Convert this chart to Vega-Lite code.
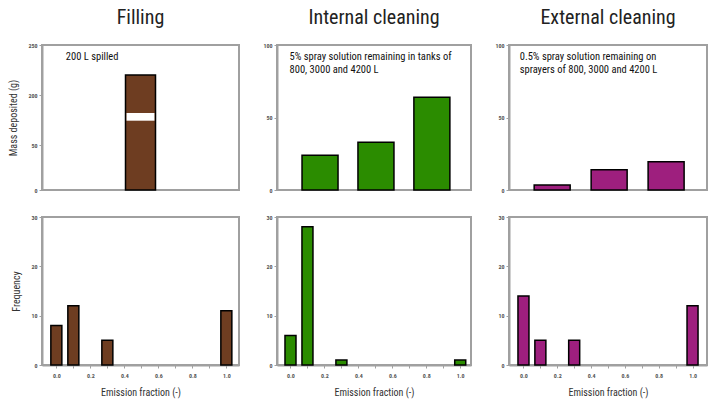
{
  "$schema": "https://vega.github.io/schema/vega-lite/v6.json",
  "padding": {"left": 7, "top": 7, "right": 3, "bottom": 3},
  "background": "white",
  "config": {
    "font": "Roboto Condensed, DejaVu Sans Condensed, Roboto, sans-serif",
    "view": {"stroke": "#a0a0a0", "strokeWidth": 2},
    "axis": {"domainColor": "#a0a0a0", "domainWidth": 2, "tickColor": "#a0a0a0", "tickSize": 3, "labelFontSize": 6, "labelFontWeight": "bold", "labelColor": "#555", "titleFontSize": 10, "titleFontWeight": "normal", "titleColor": "#333", "grid": false, "labelPadding": 2, "titlePadding": 9},
    "axisX": {"labelPadding": 4, "titlePadding": 9},
    "title": {"fontSize": 20, "fontWeight": "normal", "color": "#222", "offset": 14},
    "concat": {"spacing": 21}
  },
  "datasets": {
    "mass": [
      {"process": "Filling", "tank": 1, "mass": 220},
      {"process": "Internal cleaning", "tank": 1, "mass": 24},
      {"process": "Internal cleaning", "tank": 2, "mass": 33},
      {"process": "Internal cleaning", "tank": 3, "mass": 64},
      {"process": "External cleaning", "tank": 1, "mass": 3.5},
      {"process": "External cleaning", "tank": 2, "mass": 14},
      {"process": "External cleaning", "tank": 3, "mass": 19.5}
    ],
    "freq": [
      {"process": "Filling", "fraction": 0.0, "count": 8},
      {"process": "Filling", "fraction": 0.1, "count": 12},
      {"process": "Filling", "fraction": 0.3, "count": 5},
      {"process": "Filling", "fraction": 1.0, "count": 11},
      {"process": "Internal cleaning", "fraction": 0.0, "count": 6},
      {"process": "Internal cleaning", "fraction": 0.1, "count": 28},
      {"process": "Internal cleaning", "fraction": 0.3, "count": 1},
      {"process": "Internal cleaning", "fraction": 1.0, "count": 1},
      {"process": "External cleaning", "fraction": 0.0, "count": 14},
      {"process": "External cleaning", "fraction": 0.1, "count": 5},
      {"process": "External cleaning", "fraction": 0.3, "count": 5},
      {"process": "External cleaning", "fraction": 1.0, "count": 12}
    ]
  },
  "hconcat": [
    {
      "spacing": 19,
      "vconcat": [
        {
          "width": 197, "height": 145,
          "title": "Filling",
          "layer": [
            {
              "data": {"name": "mass"},
              "transform": [{"filter": "datum.process === 'Filling'"}],
              "mark": {"type": "bar", "width": 30, "color": "#6e3d21", "stroke": "#000", "strokeWidth": 1.5},
              "encoding": {
                "x": {"field": "tank", "type": "quantitative", "scale": {"domain": [0, 2]}, "axis": null},
                "y": {"field": "mass", "type": "quantitative", "scale": {"domain": [0, 80, 178, 250], "range": [145, 73, 72, 0], "zero": false, "nice": false}, "axis": {"values": [0, 50, 200, 250], "title": "Mass deposited (g)"}}
              }
            },
            {
              "data": {"values": [{}]},
              "mark": {"type": "rect", "color": "white"},
              "encoding": {"x": {"datum": 0.83}, "x2": {"datum": 1.17}, "y": {"datum": 77}, "y2": {"datum": 182}}
            },
            {
              "data": {"values": [{"note": "200 L spilled"}]},
              "mark": {"type": "text", "align": "left", "baseline": "top", "fontSize": 10.5, "color": "#111"},
              "encoding": {"x": {"datum": 0.09}, "y": {"datum": 243}, "text": {"field": "note"}}
            }
          ]
        },
        {
          "width": 197, "height": 148,
          "data": {"name": "freq"},
          "transform": [{"filter": "datum.process === 'Filling'"}],
          "mark": {"type": "bar", "width": 11, "color": "#6e3d21", "stroke": "#000", "strokeWidth": 1.5},
          "encoding": {
            "x": {"field": "fraction", "type": "quantitative", "scale": {"domain": [-0.055, 1.045], "nice": false, "zero": false}, "axis": {"values": [0, 0.1, 0.2, 0.3, 0.4, 0.5, 0.6, 0.7, 0.8, 0.9, 1.0], "labelExpr": "round(datum.value*10) % 2 === 0 ? format(datum.value, '.1f') : ''", "title": "Emission fraction (-)"}},
            "y": {"field": "count", "type": "quantitative", "scale": {"domain": [0, 30]}, "axis": {"values": [0, 10, 20, 30], "title": "Frequency"}}
          }
        }
      ]
    },
    {
      "spacing": 19,
      "vconcat": [
        {
          "width": 194, "height": 145,
          "title": "Internal cleaning",
          "layer": [
            {
              "data": {"name": "mass"},
              "transform": [{"filter": "datum.process === 'Internal cleaning'"}],
              "mark": {"type": "bar", "width": 36, "color": "#2b8c00", "stroke": "#000", "strokeWidth": 1.5},
              "encoding": {
                "x": {"field": "tank", "type": "quantitative", "scale": {"domain": [0.32, 3.61], "nice": false, "zero": false}, "axis": null},
                "y": {"field": "mass", "type": "quantitative", "scale": {"domain": [0, 100]}, "axis": {"values": [0, 50, 100], "title": null}}
              }
            },
            {
              "data": {"values": [{"note": ["5% spray solution remaining in tanks of", "800, 3000 and 4200 L"]}]},
              "mark": {"type": "text", "align": "left", "baseline": "top", "fontSize": 10.5, "lineHeight": 13, "color": "#111"},
              "encoding": {"x": {"datum": 0.455}, "y": {"datum": 95.2}, "text": {"field": "note"}}
            }
          ]
        },
        {
          "width": 194, "height": 148,
          "data": {"name": "freq"},
          "transform": [{"filter": "datum.process === 'Internal cleaning'"}],
          "mark": {"type": "bar", "width": 11, "color": "#2b8c00", "stroke": "#000", "strokeWidth": 1.5},
          "encoding": {
            "x": {"field": "fraction", "type": "quantitative", "scale": {"domain": [-0.05, 1.034], "nice": false, "zero": false}, "axis": {"values": [0, 0.1, 0.2, 0.3, 0.4, 0.5, 0.6, 0.7, 0.8, 0.9, 1.0], "labelExpr": "round(datum.value*10) % 2 === 0 ? format(datum.value, '.1f') : ''", "title": "Emission fraction (-)"}},
            "y": {"field": "count", "type": "quantitative", "scale": {"domain": [0, 30]}, "axis": {"values": [0, 10, 20, 30], "title": null}}
          }
        }
      ]
    },
    {
      "spacing": 19,
      "vconcat": [
        {
          "width": 198, "height": 145,
          "title": "External cleaning",
          "layer": [
            {
              "data": {"name": "mass"},
              "transform": [{"filter": "datum.process === 'External cleaning'"}],
              "mark": {"type": "bar", "width": 36, "color": "#9e1f7e", "stroke": "#000", "strokeWidth": 1.5},
              "encoding": {
                "x": {"field": "tank", "type": "quantitative", "scale": {"domain": [0.33, 3.63], "nice": false, "zero": false}, "axis": null},
                "y": {"field": "mass", "type": "quantitative", "scale": {"domain": [0, 100]}, "axis": {"values": [0, 50, 100], "title": null}}
              }
            },
            {
              "data": {"values": [{"note": ["0.5% spray solution remaining on", "sprayers of 800, 3000 and 4200 L"]}]},
              "mark": {"type": "text", "align": "left", "baseline": "top", "fontSize": 10.5, "lineHeight": 13, "color": "#111"},
              "encoding": {"x": {"datum": 0.43}, "y": {"datum": 95.2}, "text": {"field": "note"}}
            }
          ]
        },
        {
          "width": 198, "height": 148,
          "data": {"name": "freq"},
          "transform": [{"filter": "datum.process === 'External cleaning'"}],
          "mark": {"type": "bar", "width": 11, "color": "#9e1f7e", "stroke": "#000", "strokeWidth": 1.5},
          "encoding": {
            "x": {"field": "fraction", "type": "quantitative", "scale": {"domain": [-0.056, 1.056], "nice": false, "zero": false}, "axis": {"values": [0, 0.1, 0.2, 0.3, 0.4, 0.5, 0.6, 0.7, 0.8, 0.9, 1.0], "labelExpr": "round(datum.value*10) % 2 === 0 ? format(datum.value, '.1f') : ''", "title": "Emission fraction (-)"}},
            "y": {"field": "count", "type": "quantitative", "scale": {"domain": [0, 30]}, "axis": {"values": [0, 10, 20, 30], "title": null}}
          }
        }
      ]
    }
  ]
}
